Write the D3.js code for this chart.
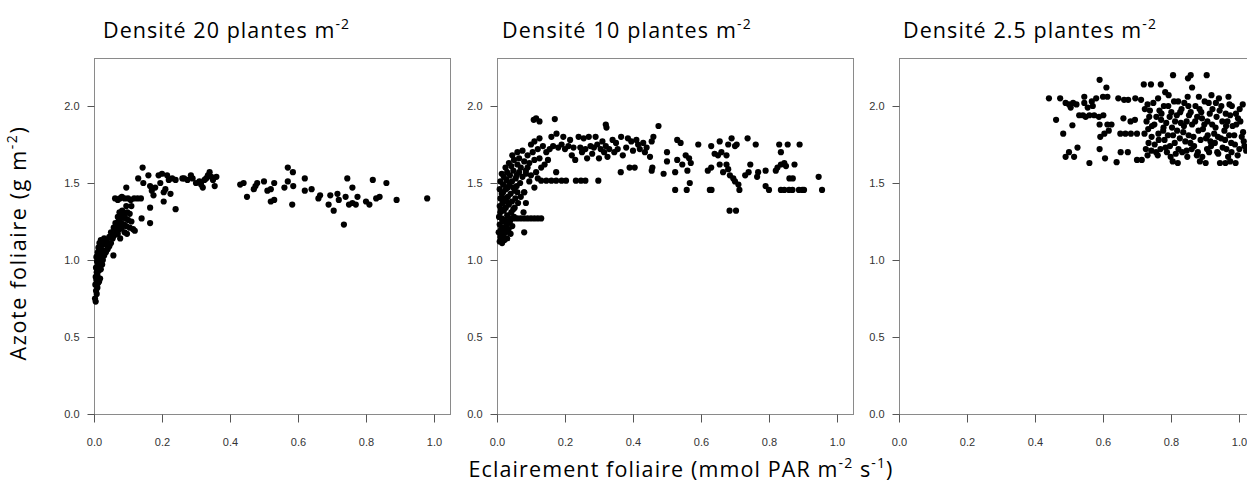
<!DOCTYPE html>
<html>
<head>
<meta charset="utf-8">
<script src="https://cdn.jsdelivr.net/npm/d3@7"></script>
<style>
  body { margin: 0; background: #fff; }
  svg { display: block; }
</style>
</head>
<body>
<div id="chart"></div>
<script>
// values
const xTicks = [0, 0.2, 0.4, 0.6, 0.8, 1.0]
const yTicks = [0, 0.5, 1.0, 1.5, 2.0]
const densities = ['20', '10', '2.5']

// Densité 20 plantes m-2 : [eclairement, azote]
const dens20 = [
  [0.005,0.73],[0.003,0.75],[0.008,0.78],[0.006,0.80],[0.010,0.82],[0.004,0.84],[0.012,0.85],[0.007,0.87],[0.015,0.86],[0.005,0.89],
  [0.010,0.90],[0.018,0.88],[0.008,0.92],[0.014,0.93],[0.006,0.95],[0.020,0.94],[0.011,0.96],[0.016,0.98],[0.009,0.99],[0.024,0.97],
  [0.013,1.00],[0.019,1.01],[0.007,1.02],[0.026,1.00],[0.015,1.03],[0.022,1.04],[0.011,1.05],[0.030,1.03],[0.018,1.07],[0.028,1.06],
  [0.013,1.08],[0.035,1.05],[0.021,1.09],[0.040,1.07],[0.016,1.11],[0.026,1.12],[0.033,1.10],[0.045,1.09],[0.020,1.13],[0.038,1.13],
  [0.050,1.11],[0.030,1.14],[0.057,1.03],[0.045,1.15],[0.055,1.14],[0.060,1.16],[0.050,1.18],[0.065,1.19],[0.070,1.17],[0.077,1.14],
  [0.058,1.21],[0.068,1.22],[0.075,1.20],[0.082,1.21],[0.090,1.18],[0.097,1.17],[0.063,1.24],[0.072,1.25],[0.080,1.24],[0.088,1.23],
  [0.095,1.22],[0.105,1.21],[0.115,1.20],[0.120,1.19],[0.070,1.28],[0.078,1.27],[0.085,1.29],[0.092,1.27],[0.100,1.26],[0.110,1.25],
  [0.075,1.31],[0.083,1.32],[0.090,1.30],[0.098,1.31],[0.105,1.30],[0.062,1.40],[0.070,1.39],[0.076,1.40],[0.082,1.41],[0.090,1.40],
  [0.100,1.40],[0.108,1.39],[0.118,1.40],[0.128,1.40],[0.138,1.40],[0.095,1.47],[0.095,1.35],[0.110,1.35],[0.143,1.60],[0.140,1.27],
  [0.165,1.24],[0.165,1.34],[0.205,1.38],[0.240,1.33],[0.130,1.53],[0.145,1.50],[0.160,1.55],[0.165,1.48],[0.170,1.45],[0.175,1.42],
  [0.180,1.47],[0.190,1.55],[0.195,1.50],[0.200,1.56],[0.205,1.44],[0.210,1.46],[0.215,1.55],[0.220,1.52],[0.225,1.43],[0.230,1.53],
  [0.240,1.52],[0.260,1.53],[0.265,1.53],[0.275,1.52],[0.285,1.55],[0.290,1.53],[0.300,1.50],[0.310,1.51],[0.315,1.49],[0.320,1.47],
  [0.325,1.52],[0.330,1.53],[0.335,1.55],[0.340,1.57],[0.345,1.54],[0.350,1.52],[0.355,1.48],[0.360,1.54],
  [0.430,1.49],[0.440,1.50],[0.450,1.41],[0.470,1.46],[0.475,1.48],[0.480,1.50],[0.500,1.51],[0.510,1.45],[0.520,1.46],[0.520,1.38],
  [0.530,1.39],[0.530,1.50],[0.560,1.47],[0.570,1.60],[0.585,1.57],[0.570,1.51],[0.586,1.48],[0.583,1.36],[0.620,1.53],[0.620,1.45],
  [0.640,1.46],[0.660,1.40],[0.665,1.42],[0.690,1.36],[0.695,1.42],[0.705,1.32],[0.716,1.43],[0.720,1.39],[0.735,1.23],[0.740,1.41],
  [0.745,1.53],[0.750,1.36],[0.760,1.37],[0.770,1.36],[0.760,1.47],[0.775,1.41],[0.800,1.38],[0.810,1.36],[0.820,1.52],[0.830,1.40],
  [0.840,1.41],[0.860,1.50],[0.890,1.39],[0.980,1.40]
]

// Densité 10 plantes m-2
const dens10 = [
  [0.008,1.12],[0.015,1.11],[0.022,1.13],[0.010,1.15],[0.030,1.14],[0.018,1.16],[0.005,1.18],[0.026,1.18],[0.040,1.17],[0.012,1.20],
  [0.020,1.21],[0.034,1.20],[0.008,1.23],[0.028,1.23],[0.045,1.22],[0.016,1.25],[0.024,1.26],[0.038,1.25],[0.006,1.28],[0.014,1.27],
  [0.030,1.29],[0.050,1.28],[0.010,1.31],[0.020,1.32],[0.042,1.31],[0.026,1.34],[0.008,1.35],[0.035,1.36],[0.052,1.34],[0.016,1.37],
  [0.044,1.38],[0.062,1.37],[0.010,1.40],[0.022,1.40],[0.032,1.41],[0.054,1.40],[0.070,1.41],[0.014,1.43],[0.040,1.43],[0.060,1.44],
  [0.080,1.44],[0.008,1.46],[0.026,1.46],[0.048,1.47],[0.018,1.49],[0.036,1.49],[0.058,1.48],[0.010,1.51],[0.028,1.52],[0.044,1.51],
  [0.068,1.50],[0.020,1.54],[0.038,1.55],[0.055,1.53],[0.075,1.54],[0.030,1.57],[0.048,1.58],[0.065,1.57],[0.085,1.56],[0.025,1.60],
  [0.042,1.61],[0.060,1.62],[0.090,1.60],[0.040,1.27],[0.050,1.27],[0.060,1.27],[0.070,1.27],[0.080,1.27],[0.090,1.27],[0.100,1.27],
  [0.110,1.27],[0.120,1.27],[0.130,1.27],[0.080,1.18],[0.085,1.37],[0.078,1.31],[0.035,1.63],[0.050,1.65],[0.065,1.66],[0.080,1.64],
  [0.095,1.63],[0.110,1.65],[0.125,1.66],[0.045,1.68],[0.060,1.70],[0.075,1.71],[0.090,1.68],[0.105,1.70],[0.120,1.72],[0.070,1.60],
  [0.085,1.58],[0.100,1.55],[0.115,1.57],[0.130,1.60],[0.095,1.51],[0.110,1.47],[0.080,1.44],[0.120,1.53],[0.140,1.62],[0.150,1.65],
  [0.100,1.75],[0.110,1.77],[0.125,1.79],[0.135,1.74],[0.108,1.91],[0.115,1.92],[0.125,1.90],[0.170,1.915],
  [0.015,1.19],[0.033,1.24],[0.012,1.33],[0.048,1.33],[0.028,1.38],[0.018,1.44],[0.052,1.45],[0.032,1.47],[0.014,1.56],[0.058,1.55],
  [0.130,1.515],[0.145,1.515],[0.160,1.515],[0.174,1.515],[0.190,1.515],[0.203,1.515],[0.232,1.515],[0.247,1.515],[0.260,1.515],[0.298,1.515],
  [0.174,1.57],[0.145,1.70],[0.155,1.72],[0.160,1.80],[0.165,1.74],[0.175,1.82],[0.180,1.73],[0.190,1.75],[0.195,1.80],[0.200,1.72],
  [0.210,1.74],[0.215,1.78],[0.220,1.68],[0.225,1.73],[0.230,1.65],[0.240,1.80],[0.245,1.73],[0.250,1.70],[0.255,1.79],[0.260,1.72],
  [0.265,1.66],[0.270,1.80],[0.275,1.74],[0.280,1.69],[0.285,1.73],[0.290,1.80],[0.295,1.75],[0.300,1.66],[0.305,1.72],[0.310,1.77],
  [0.315,1.70],[0.320,1.74],[0.325,1.67],[0.330,1.72],[0.340,1.78],[0.345,1.70],[0.350,1.76],[0.355,1.72],[0.365,1.80],[0.370,1.68],
  [0.380,1.73],[0.385,1.79],[0.395,1.77],[0.400,1.71],[0.410,1.78],[0.415,1.75],[0.420,1.72],[0.430,1.76],[0.435,1.70],[0.440,1.73],
  [0.450,1.67],[0.455,1.77],[0.460,1.80],[0.320,1.88],[0.322,1.86],[0.364,1.57],[0.390,1.60],[0.405,1.60],[0.455,1.58],[0.457,1.60],
  [0.475,1.87],[0.490,1.56],[0.500,1.70],[0.500,1.64],[0.524,1.57],[0.530,1.78],[0.540,1.76],[0.530,1.65],[0.545,1.62],[0.555,1.68],
  [0.570,1.63],[0.565,1.66],[0.567,1.50],[0.592,1.75],[0.560,1.58],[0.630,1.74],[0.655,1.77],[0.680,1.75],[0.690,1.79],[0.705,1.75],
  [0.700,1.74],[0.640,1.69],[0.650,1.68],[0.660,1.70],[0.675,1.68],[0.620,1.58],[0.630,1.60],[0.655,1.62],[0.665,1.57],[0.675,1.62],
  [0.680,1.59],[0.685,1.55],[0.695,1.53],[0.700,1.51],[0.710,1.49],[0.730,1.55],[0.740,1.57],[0.745,1.62],[0.737,1.79],[0.761,1.75],
  [0.765,1.54],[0.768,1.57],[0.790,1.58],[0.790,1.48],[0.820,1.58],[0.825,1.60],[0.835,1.62],[0.845,1.63],[0.850,1.61],[0.830,1.75],
  [0.835,1.70],[0.855,1.75],[0.890,1.75],[0.875,1.62],[0.860,1.53],[0.870,1.53],[0.946,1.54],[0.684,1.32],[0.703,1.32],
  [0.524,1.455],[0.558,1.455],[0.626,1.455],[0.631,1.455],[0.713,1.455],[0.800,1.455],[0.835,1.455],[0.845,1.455],[0.859,1.455],[0.869,1.455],
  [0.888,1.455],[0.898,1.455],[0.903,1.455],[0.956,1.455]
]

// Densité 2.5 plantes m-2
const dens2_5 = [
  [0.441,2.05],[0.474,2.05],[0.462,1.91],[0.483,1.82],[0.510,1.875],[0.490,1.67],[0.500,1.70],[0.515,1.67],[0.525,1.73],[0.560,1.63],
  [0.590,1.72],[0.606,1.66],[0.490,2.02],[0.500,2.01],[0.512,2.02],[0.522,2.01],[0.545,2.02],[0.567,2.03],[0.505,1.99],[0.555,1.99],
  [0.530,1.94],[0.541,1.94],[0.549,1.93],[0.560,1.94],[0.574,1.94],[0.588,1.93],[0.601,1.94],[0.590,2.17],[0.610,2.12],[0.600,2.06],
  [0.613,2.06],[0.590,1.88],[0.613,1.88],[0.592,1.80],[0.604,1.82],[0.617,1.84],[0.625,1.88],[0.545,2.06],[0.580,2.05],[0.570,2.00],
  [0.645,2.05],[0.662,2.04],[0.674,2.04],[0.695,2.05],[0.660,1.92],[0.681,1.90],[0.694,1.91],[0.651,1.82],[0.666,1.82],[0.682,1.82],
  [0.700,1.82],[0.652,1.70],[0.673,1.70],[0.640,1.635],[0.700,1.65],[0.720,2.14],[0.741,2.14],[0.770,2.14],[0.806,2.20],[0.850,2.18],
  [0.858,2.20],[0.905,2.20],[0.820,1.63],[0.902,1.63],[0.960,1.63],[0.990,1.63],[0.714,1.65],[0.805,1.64],[0.885,1.64],[0.944,1.63],
  [0.974,1.64],[0.712,2.04],[0.723,1.98],[0.731,2.01],[0.736,1.93],[0.744,1.87],[0.743,1.80],[0.752,1.75],[0.756,1.70],[0.762,2.05],
  [0.766,1.97],[0.771,1.91],[0.777,1.84],[0.781,1.78],[0.784,1.73],[0.792,2.00],[0.796,1.93],[0.803,1.86],[0.806,1.81],[0.811,1.76],
  [0.814,1.69],[0.821,2.03],[0.827,1.96],[0.829,1.89],[0.836,1.83],[0.842,1.77],[0.846,1.71],[0.851,2.00],[0.853,1.94],[0.862,1.88],
  [0.866,1.80],[0.868,1.74],[0.876,1.68],[0.882,2.06],[0.884,1.98],[0.891,1.92],[0.894,1.85],[0.903,1.79],[0.906,1.72],[0.911,2.02],
  [0.914,1.95],[0.921,1.88],[0.927,1.82],[0.929,1.76],[0.936,1.70],[0.941,2.05],[0.943,1.97],[0.951,1.90],[0.957,1.84],[0.959,1.78],
  [0.963,1.72],[0.972,2.01],[0.974,1.94],[0.981,1.87],[0.986,1.81],[0.988,1.75],[0.996,1.68],[1.002,1.98],[1.004,1.90],[1.012,1.83],
  [1.014,1.77],[1.021,1.71],[0.726,1.72],[0.731,1.68],[0.742,1.71],[0.761,1.68],[0.769,1.72],[0.788,1.70],[0.799,1.67],[0.822,1.72],
  [0.833,1.70],[0.848,1.67],[0.861,1.72],[0.879,1.70],[0.892,1.67],[0.912,1.70],[0.918,1.74],[0.939,1.69],[0.952,1.73],[0.968,1.67],
  [0.978,1.70],[1.001,1.72],[0.722,1.82],[0.733,1.85],[0.751,1.88],[0.763,1.82],[0.778,1.86],[0.791,1.81],[0.812,1.90],[0.818,1.84],
  [0.838,1.87],[0.852,1.81],[0.871,1.90],[0.881,1.84],[0.898,1.88],[0.908,1.81],[0.931,1.86],[0.938,1.80],[0.962,1.87],[0.971,1.81],
  [0.992,1.88],[1.008,1.80],[0.738,1.97],[0.748,2.02],[0.772,1.95],[0.779,2.00],[0.801,1.96],[0.809,2.03],[0.831,1.98],[0.839,2.02],
  [0.858,1.96],[0.872,2.00],[0.889,1.96],[0.899,2.03],[0.922,1.98],[0.932,2.02],[0.948,2.00],[0.961,1.95],[0.979,2.00],[0.991,1.95],
  [1.011,2.01],[0.793,2.07],[0.849,2.06],[0.919,2.07],[0.969,2.06],[0.862,2.12],[0.783,2.09],
  [0.728,1.90],[0.757,1.93],[0.786,1.89],[0.817,1.94],[0.846,1.90],[0.877,1.93],[0.907,1.90],[0.934,1.93],[0.966,1.90],[0.997,1.92],
  [0.734,1.76],[0.764,1.78],[0.797,1.74],[0.826,1.79],[0.857,1.76],[0.887,1.78],[0.916,1.77],[0.947,1.79],[0.977,1.76],[1.016,1.74]
]

const panelData = [dens20, dens10, dens2_5]

// layout
const width = 1247
const height = 489
const plotTop = 58
const plotBottom = 414
const plotWidth = 356
const panelLeft = [94, 497, 899]
const titleLeft = [103, 502, 903]
const labelFont = 'Open Sans, Lato, sans-serif'
const labelSize = 21.5

const svg = d3.select('#chart').append('svg')
  .attr('width', width)
  .attr('height', height)
  .style('font-family', 'Liberation Sans, Arial, sans-serif')

svg.append('rect').attr('width', width).attr('height', height).attr('fill', '#fff')

const y = d3.scaleLinear().domain([0, (plotBottom - plotTop) / 154]).range([plotBottom, plotTop])

// text with superscripts: parts = [text, sup, text, sup, ...]
function supText (sel, parts, fs) {
  const shift = Math.round(fs * 0.4)
  parts.forEach((p, i) => {
    const t = sel.append('tspan').text(p)
    if (i % 2 === 1) {
      t.attr('dy', -shift).style('font-size', Math.round(fs * 0.65) + 'px')
    } else if (i > 0) {
      t.attr('dy', shift)
    }
  })
}

// adjust letter spacing so the label covers the same width as in the figure
function fitWidth (sel, target) {
  const w = sel.node().getComputedTextLength()
  const n = sel.text().length
  sel.style('letter-spacing', ((target - w) / n) + 'px')
}

panelData.forEach((data, i) => {
  const left = panelLeft[i]
  const x = d3.scaleLinear().domain([0, plotWidth / 340]).range([left, left + plotWidth])
  const g = svg.append('g')

  // frame
  g.append('rect')
    .attr('x', left + 0.5)
    .attr('y', plotTop + 0.5)
    .attr('width', plotWidth)
    .attr('height', plotBottom - plotTop)
    .attr('fill', 'none')
    .attr('stroke', '#8a8a8a')
    .attr('stroke-width', 1)

  const yAxis = g.append('g')
    .attr('transform', `translate(${left + 0.5},0)`)
    .call(d3.axisLeft(y).tickValues(yTicks).tickFormat(d3.format('.1f')).tickSize(7).tickPadding(8))
  const xAxis = g.append('g')
    .attr('transform', `translate(0,${plotBottom + 0.5})`)
    .call(d3.axisBottom(x).tickValues(xTicks).tickFormat(d3.format('.1f')).tickSize(8).tickPadding(16))

  ;[yAxis, xAxis].forEach(a => {
    a.select('.domain').remove()
    a.selectAll('line').attr('stroke', '#555')
    a.selectAll('text').attr('fill', '#333').style('font-size', '11px').style('font-family', 'Liberation Sans, Arial, sans-serif')
  })

  g.append('g').selectAll('circle')
    .data(data)
    .join('circle')
    .attr('cx', d => x(d[0]))
    .attr('cy', d => y(d[1]))
    .attr('r', 3.1)
    .attr('fill', '#000')

  const title = svg.append('text')
    .attr('x', titleLeft[i])
    .attr('y', 38)
    .attr('fill', '#000')
    .style('font-family', labelFont)
    .style('font-size', labelSize + 'px')
  supText(title, ['Densité ' + densities[i] + ' plantes m', '-2'], labelSize)
  fitWidth(title, [247, 250, 254][i])
})

// axis titles
const yLabel = svg.append('text')
  .attr('transform', 'translate(26,243)rotate(-90)')
  .attr('text-anchor', 'middle')
  .attr('fill', '#000')
  .style('font-family', labelFont)
  .style('font-size', labelSize + 'px')
supText(yLabel, ['Azote foliaire (g m', '-2', ')'], labelSize)
fitWidth(yLabel, 235)

const xLabel = svg.append('text')
  .attr('x', 681)
  .attr('y', 477)
  .attr('text-anchor', 'middle')
  .attr('fill', '#000')
  .style('font-family', labelFont)
  .style('font-size', labelSize + 'px')
supText(xLabel, ['Eclairement foliaire (mmol PAR m', '-2', ' s', '-1', ')'], labelSize)
fitWidth(xLabel, 425)
</script>
</body>
</html>
